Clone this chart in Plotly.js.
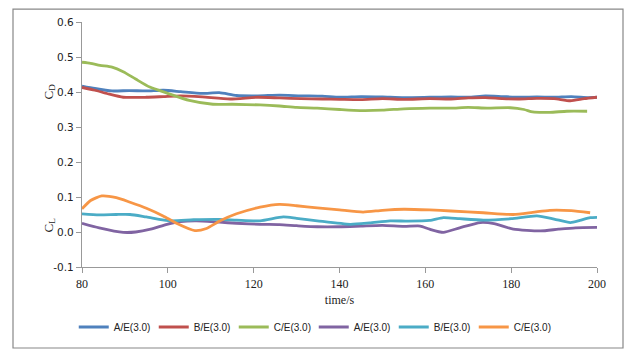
<!DOCTYPE html>
<html><head><meta charset="utf-8">
<script src="https://cdn.plot.ly/plotly-3.0.1.min.js"></script>
<style>html,body{margin:0;padding:0;background:#fff}#c{width:625px;height:354px}</style>
</head><body><div id="c"></div>
<script>
// C_D series
const tA_D = [80,83,87,91,95,99,103,108,112,116,121,126,131,136,140,145,150,155,161,166,170,174,178,182,186,190,194,198,200];
const vA_D = [0.417,0.41,0.403,0.404,0.403,0.405,0.401,0.396,0.398,0.39,0.389,0.391,0.389,0.388,0.385,0.387,0.386,0.384,0.385,0.386,0.385,0.389,0.387,0.385,0.386,0.385,0.387,0.384,0.385];
const tB_D = [80,83,86,89.6,95,99,103,108,114.5,121,126,131,136,140,145,150,155,161,166,170,174,178,182,186,190,193.8,197,200];
const vB_D = [0.413,0.405,0.395,0.385,0.385,0.387,0.389,0.386,0.38,0.385,0.383,0.381,0.38,0.379,0.378,0.381,0.379,0.381,0.38,0.383,0.384,0.381,0.38,0.382,0.381,0.375,0.381,0.385];
const tC_D = [80,82,84.2,87,89.6,92.5,95.8,99.8,105,110.5,115,121.5,126,130,134.8,140,144.8,150,155,161,166,170,174.4,179.8,183,185,189,193,197.7];
const vC_D = [0.485,0.482,0.476,0.471,0.458,0.437,0.414,0.397,0.376,0.365,0.365,0.363,0.36,0.356,0.354,0.35,0.347,0.348,0.352,0.354,0.354,0.356,0.354,0.355,0.35,0.343,0.342,0.345,0.345];
// C_L series
const tA_L = [80,84,89.6,92.5,96,99.8,103,106.7,112,116,121.5,126,130,134.8,140,145,150,155,158.8,161,164.2,168,172.8,176,180.5,186.8,191,195,200];
const vA_L = [0.025,0.012,-0.001,0.0,0.008,0.022,0.03,0.032,0.028,0.025,0.022,0.021,0.018,0.015,0.015,0.017,0.019,0.016,0.017,0.008,-0.001,0.012,0.027,0.024,0.008,0.003,0.008,0.012,0.013];
const tB_L = [80,84,88,91.2,95,100.6,106,112,116,121.5,126.9,130,134.8,142.5,147,151.8,156,161,164.2,168,173.5,180,186,190,193.8,196,198.4,200];
const vB_L = [0.052,0.049,0.05,0.05,0.043,0.032,0.035,0.036,0.034,0.032,0.043,0.039,0.032,0.022,0.026,0.032,0.031,0.033,0.041,0.038,0.034,0.038,0.046,0.037,0.027,0.033,0.041,0.042];
const tC_L = [80,82,84.6,88,91.2,95,98.9,102,106.3,109,112.2,116,121.5,126,130,134.8,140,145.5,150,155,161,166,173.5,180.5,185,189,194,198.4];
const vC_L = [0.066,0.09,0.103,0.098,0.085,0.068,0.046,0.025,0.004,0.01,0.032,0.052,0.071,0.079,0.075,0.069,0.063,0.057,0.062,0.065,0.063,0.06,0.055,0.05,0.056,0.062,0.061,0.055];

const yTickVals = [-0.1,0,0.1,0.2,0.3,0.4,0.5,0.6];
const yTickText = ['-0.1','0.0','0.1','0.2','0.3','0.4','0.5','0.6'];
const xTickVals = [80,100,120,140,160,180,200];

const names = ['A/E(3.0)','B/E(3.0)','C/E(3.0)','A/E(3.0)','B/E(3.0)','C/E(3.0)'];
const colors = ['#4F81BD','#C0504D','#9BBB59','#8064A2','#4BACC6','#F79646'];
const xs = [tA_D,tB_D,tC_D,tA_L,tB_L,tC_L];
const ys = [vA_D,vB_D,vC_D,vA_L,vB_L,vC_L];

const data = xs.map((x,i)=>({x:x,y:ys[i],type:'scatter',mode:'lines',name:names[i],
  line:{color:colors[i],width:2.8,shape:'spline',smoothing:0.6}}));

const serif = 'Liberation Serif, Times New Roman, serif';
const layout = {
  width:625,height:354,
  margin:{l:82,r:28,t:22,b:84},
  paper_bgcolor:'#fff',plot_bgcolor:'#fff',
  showlegend:true,
  legend:{orientation:'h',x:0.45,xanchor:'center',y:-0.245,yanchor:'middle',
    font:{family:'Liberation Sans, Arial, sans-serif',size:10,color:'#222'},
    entrywidth:35,entrywidthmode:'pixels',itemwidth:30,tracegroupgap:0,itemclick:false},
  xaxis:{range:[80,200],tickvals:xTickVals,ticks:'outside',ticklen:5,tickcolor:'#999',
    showgrid:false,zeroline:false,showline:true,linecolor:'#999',linewidth:1.2,
    tickfont:{family:serif,size:12,color:'#222'},
    title:{text:'time/s',font:{family:serif,size:12,color:'#222'},standoff:6}},
  yaxis:{range:[-0.1,0.6],tickvals:yTickVals,ticktext:yTickText,ticks:'outside',ticklen:5,tickcolor:'#999',
    showgrid:false,zeroline:false,showline:true,linecolor:'#999',linewidth:1.2,
    tickfont:{family:'Verdana, DejaVu Sans, sans-serif',size:10.5,color:'#222'}},
  annotations:[
    {text:'C<sub>D</sub>',xref:'paper',yref:'y',x:(38-82)/515,y:0.4,showarrow:false,textangle:-90,
      font:{family:serif,size:13,color:'#222'}},
    {text:'C<sub>L</sub>',xref:'paper',yref:'y',x:(38-82)/515,y:0.02,showarrow:false,textangle:-90,
      font:{family:serif,size:13,color:'#222'}}
  ],
  shapes:[{type:'rect',xref:'paper',yref:'paper',x0:(13-82)/515,x1:(623-82)/515,
    y0:(270-352)/248,y1:(270-9)/248,line:{color:'#888',width:1.2},fillcolor:'rgba(0,0,0,0)',layer:'below'}]
};
Plotly.newPlot('c',data,layout,{displayModeBar:false,staticPlot:true});
</script>
</body></html>
